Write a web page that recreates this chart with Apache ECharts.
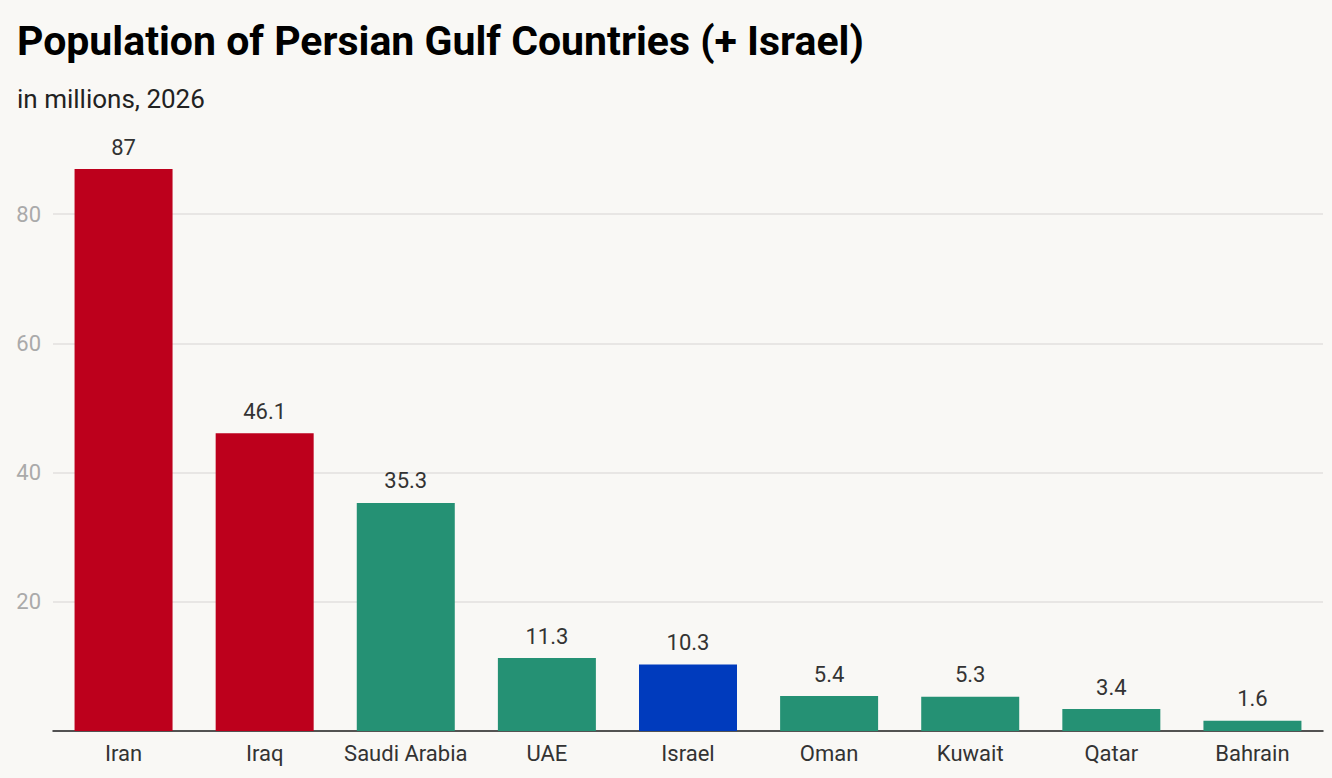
<!DOCTYPE html>
<html>
<head>
<meta charset="utf-8">
<script src="https://cdn.jsdelivr.net/npm/echarts@6/dist/echarts.min.js"></script>
<style>
  html, body { margin: 0; padding: 0; background: #f9f8f5; }
  #chart { width: 1332px; height: 778px; }
</style>
</head>
<body>
<div id="chart"></div>
<script>
// data
var countries = ['Iran', 'Iraq', 'Saudi Arabia', 'UAE', 'Israel', 'Oman', 'Kuwait', 'Qatar', 'Bahrain'];
var population = [87, 46.1, 35.3, 11.3, 10.3, 5.4, 5.3, 3.4, 1.6];
var barColors = ['#bd001c', '#bd001c', '#259174', '#259174', '#003bbd', '#259174', '#259174', '#259174', '#259174'];
var yTicks = [0, 20, 40, 60, 80];

var chart = echarts.init(document.getElementById('chart'), null, {renderer: 'svg'});

chart.setOption({
  backgroundColor: '#f9f8f5',
  textStyle: { fontFamily: 'Roboto' },
  title: [{
    text: 'Population of Persian Gulf Countries (+ Israel)',
    left: 12,
    top: 15,
    textStyle: { fontSize: 41, fontWeight: 'bold', color: '#000', fontFamily: 'Roboto' }
  }, {
    text: 'in millions, 2026',
    left: 12,
    top: 81,
    textStyle: { fontSize: 26, fontWeight: 'normal', color: '#222', fontFamily: 'Roboto' }
  }],
  grid: { left: 53, right: 9, top: 169, bottom: 47, containLabel: false },
  xAxis: {
    type: 'category',
    data: countries,
    axisTick: { show: false },
    axisLine: { lineStyle: { color: '#222', width: 1.5 } },
    axisLabel: { color: '#333', fontSize: 22, margin: 11, interval: 0 }
  },
  yAxis: {
    type: 'value',
    min: yTicks[0],
    max: 87,
    interval: 20,
    axisLine: { show: false },
    axisTick: { show: false },
    axisLabel: { color: '#aaa', fontSize: 22, margin: 12, showMaxLabel: false, showMinLabel: false },
    splitLine: { showMaxLine: false, lineStyle: { color: '#e2e1de', width: 1.5 } }
  },
  series: [{
    type: 'bar',
    data: population.map(function (v, i) {
      return { value: v, itemStyle: { color: barColors[i] } };
    }),
    barWidth: 98,
    label: {
      show: true,
      position: 'top',
      distance: 11,
      color: '#333',
      fontSize: 22
    }
  }]
});
</script>
</body>
</html>
